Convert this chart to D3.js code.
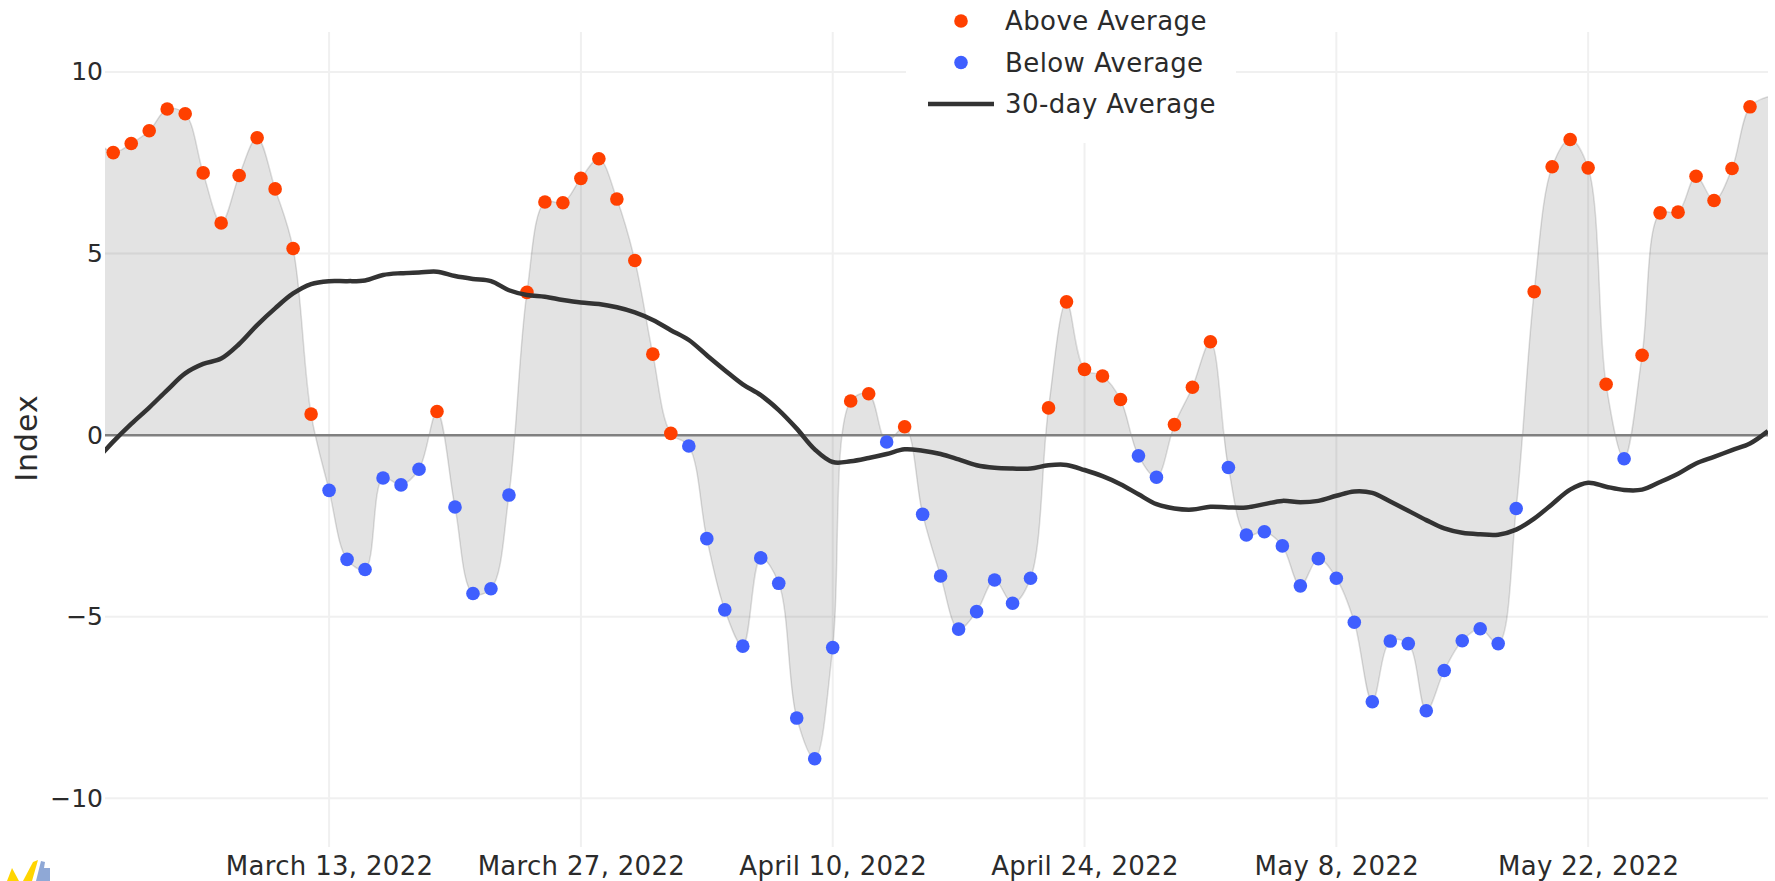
<!DOCTYPE html>
<html>
<head>
<meta charset="utf-8">
<script src="https://cdn.jsdelivr.net/npm/d3@7"></script>
<style>
  html, body { margin: 0; padding: 0; background: #fff; overflow: hidden; }
  text { font-family: "DejaVu Sans", sans-serif; fill: #2a3f5f; }
</style>
</head>
<body>
<div id="chart"></div>
<script>
// daily index, first value is Feb 28 and last is June 1 (both clipped by the plot edge)
const startDate = "2022-02-28";
const indexValues = [
  8.15,
  7.78, 8.03, 8.38, 8.98, 8.85, 7.22, 5.84, 7.15, 8.19, 6.78, 5.14, 0.58, -1.52, -3.42, -3.70, -1.18,
  -1.37, -0.94, 0.65, -1.98, -4.36, -4.23, -1.65, 3.93, 6.42, 6.40, 7.07, 7.61, 6.50, 4.81, 2.23,
  0.05, -0.30, -2.85, -4.81, -5.81, -3.38, -4.08, -7.79, -8.91, -5.85, 0.94, 1.14, -0.19, 0.23, -2.18,
  -3.88, -5.34, -4.86, -3.99, -4.63, -3.94, 0.75, 3.67, 1.81, 1.63, 0.98, -0.57, -1.16, 0.29, 1.32,
  2.57, -0.89, -2.75, -2.66, -3.05, -4.15, -3.40, -3.94, -5.15, -7.34, -5.67, -5.74, -7.59, -6.48, -5.66,
  -5.33, -5.74, -2.02, 3.95, 7.39, 8.14, 7.36, 1.40, -0.65, 2.20, 6.12, 6.14, 7.13, 6.46, 7.34, 9.04,
  9.32
];
const averageValues = [
  -0.72,
  -0.18, 0.31, 0.76, 1.24, 1.70, 1.96, 2.11, 2.51, 3.03, 3.49, 3.90, 4.16, 4.24, 4.24, 4.26, 4.41,
  4.46, 4.48, 4.50, 4.38, 4.30, 4.24, 3.99, 3.86, 3.81, 3.72, 3.65, 3.61, 3.52, 3.38, 3.17,
  2.89, 2.62, 2.20, 1.79, 1.40, 1.10, 0.69, 0.18, -0.39, -0.74, -0.72, -0.63, -0.52, -0.39, -0.43,
  -0.52, -0.67, -0.83, -0.90, -0.92, -0.92, -0.83, -0.82, -0.96, -1.13, -1.35, -1.63, -1.90, -2.02, -2.05,
  -1.97, -1.99, -1.99, -1.90, -1.81, -1.85, -1.81, -1.67, -1.55, -1.59, -1.83, -2.08, -2.34, -2.57, -2.69,
  -2.73, -2.74, -2.60, -2.30, -1.90, -1.50, -1.31, -1.42, -1.51, -1.50, -1.29, -1.06, -0.78, -0.60, -0.41, -0.23,
  0.11
];
const xTicks = ["2022-03-13", "2022-03-27", "2022-04-10", "2022-04-24", "2022-05-08", "2022-05-22"];
const xTickLabels = ["March 13, 2022", "March 27, 2022", "April 10, 2022", "April 24, 2022", "May 8, 2022", "May 22, 2022"];
const yTicks = [-10, -5, 0, 5, 10];
const legendLabels = ["Above Average", "Below Average", "30-day Average"];

const width = 1775;
const height = 881;
const margin = { top: 32, right: 7, bottom: 34, left: 105 };
const red = "#ff4000";
const blue = "#3f5fff";
const dark = "#333333";

const parseDay = d3.utcParse("%Y-%m-%d");
const days = d3.range(indexValues.length).map(i => d3.utcDay.offset(parseDay(startDate), i));
const data = days.map((d, i) => ({ date: d, value: indexValues[i], avg: averageValues[i] }));
// the first and last rows only carry the lines past the plot edge
const dots = data.slice(1, -1);

const svg = d3.select("#chart")
  .append("svg")
  .attr("width", width)
  .attr("height", height);

// x: Mar 13 sits at 328.7 and one day is 18px
const x = d3.scaleUtc()
  .domain([d3.utcHour.offset(parseDay(startDate), 13), d3.utcHour.offset(parseDay("2022-06-01"), 0)])
  .range([margin.left, width - margin.right]);

const y = d3.scaleLinear()
  .domain([-11.34, 11.10])
  .range([height - margin.bottom, margin.top]);

svg.append("defs").append("clipPath").attr("id", "plot-clip")
  .append("rect")
  .attr("x", margin.left)
  .attr("y", margin.top)
  .attr("width", width - margin.left - margin.right)
  .attr("height", height - margin.top - margin.bottom);

const xLabelOf = d => xTickLabels[xTicks.indexOf(d3.utcFormat("%Y-%m-%d")(d))];

// axes
const yAxis = svg.append("g")
  .attr("transform", `translate(${margin.left},0)`)
  .call(d3.axisLeft(y).tickValues(yTicks).tickSize(0).tickPadding(2));
yAxis.select(".domain").remove();
yAxis.selectAll("text")
  .style("font-size", "25px")
  .style("fill", "#2b2b2b");

const xAxis = svg.append("g")
  .attr("transform", `translate(0,${height - margin.bottom})`)
  .call(d3.axisBottom(x).tickValues(xTicks.map(parseDay)).tickFormat(xLabelOf).tickSize(0).tickPadding(10));
xAxis.select(".domain").remove();
xAxis.selectAll("text")
  .style("font-size", "26px")
  .style("letter-spacing", "0.3px")
  .style("fill", "#2b2b2b");

// grid
svg.append("g").selectAll("line")
  .data(yTicks.filter(d => d !== 0))
  .enter()
  .append("line")
  .attr("x1", margin.left)
  .attr("x2", width - margin.right)
  .attr("y1", d => y(d))
  .attr("y2", d => y(d))
  .attr("stroke", "#f0f0f0")
  .attr("stroke-width", 2);

svg.append("g").selectAll("line")
  .data(xTicks.map(parseDay))
  .enter()
  .append("line")
  .attr("x1", d => x(d))
  .attr("x2", d => x(d))
  .attr("y1", margin.top)
  .attr("y2", height - margin.bottom)
  .attr("stroke", "#f0f0f0")
  .attr("stroke-width", 2);

// y title
svg.append("text")
  .attr("transform", `translate(26,438) rotate(-90)`)
  .attr("text-anchor", "middle")
  .attr("dominant-baseline", "central")
  .style("font-size", "30px")
  .style("letter-spacing", "1px")
  .style("fill", "#2b2b2b")
  .text("Index");

const plot = svg.append("g").attr("clip-path", "url(#plot-clip)");

// same smoothing as a plotly spline
const smooth = d3.curveCatmullRom.alpha(0.5);

const area = d3.area()
  .x(d => x(d.date))
  .y0(y(0))
  .y1(d => y(d.value))
  .curve(smooth);

plot.append("path")
  .datum(data)
  .attr("d", area)
  .attr("fill", "rgba(0,0,0,0.11)");

plot.append("path")
  .datum(data)
  .attr("d", d3.line().x(d => x(d.date)).y(d => y(d.value)).curve(smooth))
  .attr("fill", "none")
  .attr("stroke", "rgba(0,0,0,0.13)")
  .attr("stroke-width", 1.5);

// zero line
plot.append("line")
  .attr("x1", margin.left)
  .attr("x2", width - margin.right)
  .attr("y1", y(0))
  .attr("y2", y(0))
  .attr("stroke", "#808080")
  .attr("stroke-width", 2.5);

// points
plot.append("g").selectAll("circle")
  .data(dots)
  .enter()
  .append("circle")
  .attr("cx", d => x(d.date))
  .attr("cy", d => y(d.value))
  .attr("r", 6.8)
  .attr("fill", d => d.value >= 0 ? red : blue);

// 30-day average
plot.append("path")
  .datum(data)
  .attr("d", d3.line().x(d => x(d.date)).y(d => y(d.avg)).curve(smooth))
  .attr("fill", "none")
  .attr("stroke", dark)
  .attr("stroke-width", 4.5);

// legend with its white box over the grid
const legend = svg.append("g");
legend.append("rect")
  .attr("x", 906)
  .attr("y", 0)
  .attr("width", 330)
  .attr("height", 143)
  .attr("fill", "#fff");

const legendY = d3.scalePoint().domain(legendLabels).range([21, 104]);

legend.selectAll("text")
  .data(legendLabels)
  .enter()
  .append("text")
  .attr("x", 1005)
  .attr("y", d => legendY(d))
  .attr("dominant-baseline", "central")
  .style("font-size", "26px")
  .style("letter-spacing", "0.4px")
  .style("fill", "#2b2b2b")
  .text(d => d);

legend.append("circle").attr("cx", 961).attr("cy", legendY(legendLabels[0])).attr("r", 6.8).attr("fill", red);
legend.append("circle").attr("cx", 961).attr("cy", legendY(legendLabels[1])).attr("r", 6.8).attr("fill", blue);
legend.append("line")
  .attr("x1", 928)
  .attr("x2", 994)
  .attr("y1", legendY(legendLabels[2]))
  .attr("y2", legendY(legendLabels[2]))
  .attr("stroke", dark)
  .attr("stroke-width", 4.5);

// bit of a logo cut off by the bottom edge
const logo = svg.append("g");
logo.append("path").attr("d", "M7 881L12 868L19 881Z").attr("fill", "#ffd500");
logo.append("path").attr("d", "M23 881L33 862L38 860L32 881Z").attr("fill", "#ffd500");
logo.append("path").attr("d", "M36 881L41 861L45 862L44 868L50 868L50 881Z").attr("fill", "#8fa8d6");
</script>
</body>
</html>
